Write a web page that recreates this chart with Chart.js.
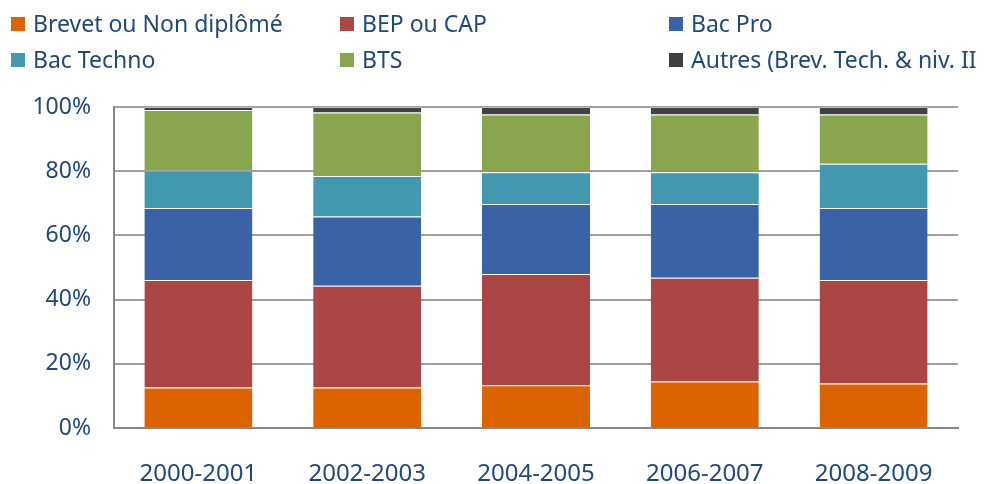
<!DOCTYPE html>
<html>
<head>
<meta charset="utf-8">
<script src="https://cdn.jsdelivr.net/npm/chart.js@4/dist/chart.umd.min.js"></script>
<style>
  body { margin: 0; background: #fff; }
  #wrap { position: relative; width: 984px; height: 484px; overflow: hidden; }
  #legend { position: absolute; left: 0; top: 0; width: 984px; font-family: "Noto Sans", sans-serif; font-size: 23px; color: #1F497D; }
  .item { position: absolute; white-space: nowrap; height: 30px; line-height: 30px; }
  .box { position: absolute; left: 0; top: 8px; width: 14px; height: 14px; }
  .lbl { position: absolute; left: 22px; top: -1px; }
</style>
</head>
<body>
<div id="wrap">
  <canvas id="chart" width="984" height="484"></canvas>
  <div id="legend"></div>
</div>
<script>
const years = ['2000-2001', '2002-2003', '2004-2005', '2006-2007', '2008-2009'];
const seriesNames = ['Brevet ou Non diplômé', 'BEP ou CAP', 'Bac Pro', 'Bac Techno', 'BTS', 'Autres (Brev. Tech. & niv. II'];
const seriesColors = ['#DB6400', '#AA4644', '#3A62A7', '#4198AF', '#89A54E', '#404040'];

const brevet = [12.6, 12.6, 13.3, 14.5, 13.9];
const bepCap = [33.5, 31.7, 34.7, 32.3, 32.2];
const bacPro = [22.4, 21.6, 21.8, 23.0, 22.4];
const bacTechno = [11.7, 12.6, 9.9, 9.9, 13.8];
const bts = [18.9, 19.8, 18.0, 18.0, 15.4];
const autres = [0.9, 1.7, 2.3, 2.3, 2.3];

const yTicks = [0, 20, 40, 60, 80, 100];

const allValues = [brevet, bepCap, bacPro, bacTechno, bts, autres];

// legend: 2 rows x 3 columns, like the Excel one
const legend = document.getElementById('legend');
seriesNames.forEach((name, i) => {
  const col = i % 3, row = Math.floor(i / 3);
  const el = document.createElement('div');
  el.className = 'item';
  el.style.left = (11 + col * 329) + 'px';
  el.style.top = (9 + row * 36) + 'px';
  el.innerHTML = '<span class="box" style="background:' + seriesColors[i] + '"></span><span class="lbl"></span>';
  el.querySelector('.lbl').textContent = name;
  legend.appendChild(el);
});

const ctx = document.getElementById('chart').getContext('2d');
new Chart(ctx, {
  type: 'bar',
  data: {
    labels: years,
    datasets: allValues.map((vals, i) => ({
      label: seriesNames[i],
      data: vals,
      backgroundColor: seriesColors[i],
      borderColor: 'rgba(255,255,255,0.3)',
      borderWidth: { top: 1 },
      borderSkipped: false,
      barPercentage: 0.64,
      categoryPercentage: 1
    }))
  },
  options: {
    responsive: false,
    animation: false,
    layout: { padding: { top: 107, right: 26, bottom: 0, left: 0 } },
    plugins: {
      legend: { display: false },
      tooltip: { enabled: false }
    },
    scales: {
      x: {
        stacked: true,
        afterFit: scale => { scale.height = 56; },
        grid: { display: false, drawTicks: false },
        border: { color: '#868686', width: 2 },
        ticks: {
          padding: 32,
          color: '#1F497D',
          font: { family: '"Noto Sans", sans-serif', size: 24 }
        }
      },
      y: {
        stacked: true,
        min: 0,
        max: 100,
        afterFit: scale => { scale.width = 114; },
        afterBuildTicks: scale => { scale.ticks = yTicks.map(v => ({ value: v })); },
        grid: { color: '#A0A0A0', lineWidth: 2, drawTicks: false },
        border: { color: '#868686', width: 2 },
        ticks: {
          padding: 23,
          color: '#1F497D',
          font: { family: '"Noto Sans", sans-serif', size: 23 },
          callback: v => v + '%'
        }
      }
    }
  }
});
</script>
</body>
</html>
